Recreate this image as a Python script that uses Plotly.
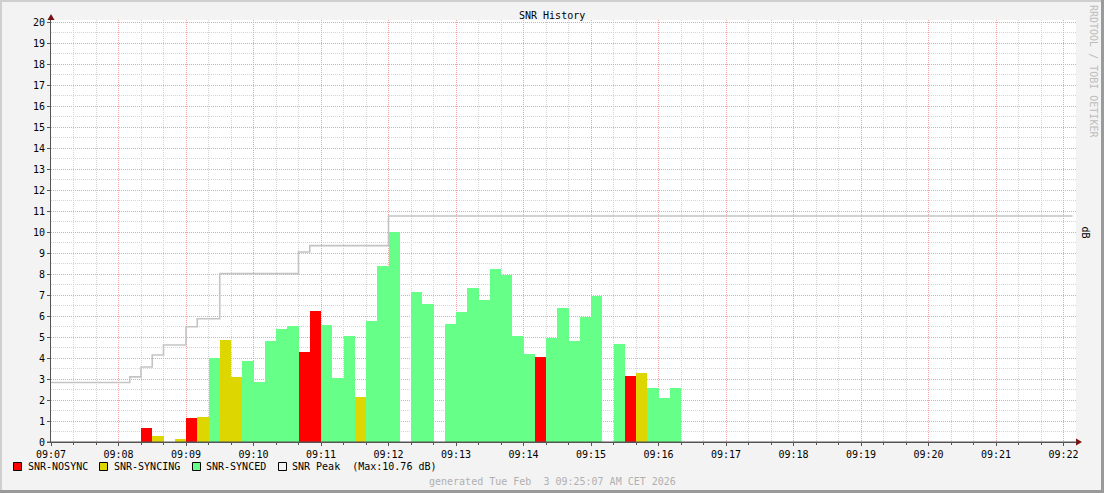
import plotly.graph_objects as go

# ---------------- data ----------------
DAY = "2026-02-03 "
bin_times = [
    "09:08:20", "09:08:30", "09:08:40", "09:08:50", "09:09:00", "09:09:10", "09:09:20", "09:09:30",
    "09:09:40", "09:09:50", "09:10:00", "09:10:10", "09:10:20", "09:10:30", "09:10:40", "09:10:50",
    "09:11:00", "09:11:10", "09:11:20", "09:11:30", "09:11:40", "09:11:50", "09:12:00", "09:12:10",
    "09:12:20", "09:12:30", "09:12:40", "09:12:50", "09:13:00", "09:13:10", "09:13:20", "09:13:30",
    "09:13:40", "09:13:50", "09:14:00", "09:14:10", "09:14:20", "09:14:30", "09:14:40", "09:14:50",
    "09:15:00", "09:15:10", "09:15:20", "09:15:30", "09:15:40", "09:15:50", "09:16:00", "09:16:10",
]
N = None
snr_nosync = [
    0.68, N, N, N, 1.16, N, N, N,
    N, N, N, N, N, N, 4.30, 6.25,
    N, N, N, N, N, N, N, N,
    N, N, N, N, N, N, N, N,
    N, N, N, 4.06, N, N, N, N,
    N, N, N, 3.16, N, N, N, N,
]
snr_syncing = [
    N, 0.30, N, 0.16, N, 1.21, N, 4.87,
    3.11, N, N, N, N, N, N, N,
    N, N, N, 2.16, N, N, N, N,
    N, N, N, N, N, N, N, N,
    N, N, N, N, N, N, N, N,
    N, N, N, N, 3.30, N, N, N,
]
snr_synced = [
    N, N, N, N, N, N, 4.02, N,
    N, 3.87, 2.87, 4.83, 5.40, 5.54, N, N,
    5.59, 3.06, 5.06, N, 5.78, 8.40, 10.02, N,
    7.16, 6.59, N, 5.63, 6.21, 7.35, 6.75, 8.25,
    7.97, 5.06, 4.21, N, 4.97, 6.40, 4.83, 5.97,
    6.97, N, 4.68, N, N, 2.59, 2.11, 2.59,
]
peak_times = ["09:07:00", "09:08:10", "09:08:20", "09:08:30", "09:08:40", "09:09:00",
              "09:09:10", "09:09:30", "09:10:40", "09:10:50", "09:12:00", "09:22:08"]
peak_values = [2.83, 3.10, 3.57, 4.14, 4.62, 5.49, 5.87, 8.02, 9.05, 9.35, 10.76, 10.76]
tick_times = ["09:%02d" % m for m in range(7, 23)]
y_ticks = list(range(0, 21))

# ---------------- styling ----------------
FONT = "DejaVu Sans Mono"
W, H = 1104, 493
PL, PR, PT, PB = 51, 1076, 20, 442  # plot area in pixels

def px(x):
    return (x - PL) / (PR - PL)

def py(y):
    return (PB - y) / (PB - PT)

fig = go.Figure()
xs = [DAY + t for t in bin_times]
for name, vals, col in [("SNR-NOSYNC", snr_nosync, "#ff0000"),
                        ("SNR-SYNCING", snr_syncing, "#ddd600"),
                        ("SNR-SYNCED", snr_synced, "#66ff88")]:
    fig.add_trace(go.Bar(x=xs, y=vals, width=[10000] * len(xs), offset=0,
                         marker=dict(color=col, line=dict(width=0)), name=name,
                         showlegend=False))

fig.add_trace(go.Scatter(x=[DAY + t for t in peak_times], y=peak_values, mode="lines",
                         line=dict(color="#c4c4c4", width=1.6, shape="hv"),
                         showlegend=False))

fig.update_layout(
    width=W, height=H,
    margin=dict(l=PL, r=W - PR, t=PT, b=H - PB, pad=0),
    paper_bgcolor="#f3f3f3", plot_bgcolor="#ffffff",
    barmode="overlay", bargap=0,
    font=dict(family=FONT, size=10, color="#000000"),
    showlegend=False,
)
fig.update_xaxes(
    type="date",
    range=[DAY + "09:07:00", DAY + "09:22:11.1"],
    tickvals=[DAY + t for t in tick_times], ticktext=tick_times,
    showgrid=True, gridcolor="#f2a0a0", griddash="1px,1px", gridwidth=1,
    minor=dict(dtick=20000, tick0=DAY + "09:07:00", showgrid=True,
               gridcolor="#d4d4d4", griddash="1px,1px", ticks="outside", ticklen=2,
               tickcolor="#555555"),
    showline=True, linecolor="#555555", linewidth=1,
    ticks="outside", ticklen=3, tickcolor="#555555",
    tickfont=dict(family=FONT, size=10, color="#000000"),
    zeroline=False,
)
fig.update_yaxes(
    range=[0, 20 + 2 / 21],
    tickvals=y_ticks, ticktext=[str(v) for v in y_ticks],
    showgrid=True, gridcolor="#f2a0a0", griddash="1px,1px", gridwidth=1,
    minor=dict(dtick=0.5, tick0=0, showgrid=True, gridcolor="#d4d4d4",
               griddash="1px,1px"),
    showline=True, linecolor="#555555", linewidth=1,
    ticks="outside", ticklen=3, tickcolor="#555555",
    tickfont=dict(family=FONT, size=10, color="#000000"),
    zeroline=False,
)

shapes = []
# 3D frame borders
shapes.append(dict(type="rect", xref="paper", yref="paper", x0=px(0), x1=px(W), y0=py(0), y1=py(2),
                   fillcolor="#cfcfcf", line=dict(width=0), layer="below"))
shapes.append(dict(type="rect", xref="paper", yref="paper", x0=px(0), x1=px(2), y0=py(0), y1=py(H),
                   fillcolor="#cfcfcf", line=dict(width=0), layer="below"))
shapes.append(dict(type="rect", xref="paper", yref="paper", x0=px(W - 3), x1=px(W), y0=py(0), y1=py(H),
                   fillcolor="#9a9a9a", line=dict(width=0), layer="below"))
shapes.append(dict(type="rect", xref="paper", yref="paper", x0=px(0), x1=px(W), y0=py(H - 3), y1=py(H),
                   fillcolor="#9a9a9a", line=dict(width=0), layer="below"))
# axis arrows
shapes.append(dict(type="path", xref="paper", yref="paper",
                   path="M %f,%f L %f,%f L %f,%f Z" % (px(47.5), py(20), px(54.5), py(20), px(51), py(14)),
                   fillcolor="#7a1010", line=dict(width=0)))
shapes.append(dict(type="path", xref="paper", yref="paper",
                   path="M %f,%f L %f,%f L %f,%f Z" % (px(1076), py(438.5), px(1076), py(445.5), px(1082), py(442)),
                   fillcolor="#7a1010", line=dict(width=0)))
shapes.append(dict(type="line", xref="paper", yref="paper", x0=px(47), x1=px(1077), y0=py(442), y1=py(442),
                   line=dict(color="#555555", width=1)))

# legend boxes
legend_items = [(13, "#ff0000"), (99, "#ddd600"), (192, "#66ff88"), (278, "#f3f3f3")]
for x0, col in legend_items:
    shapes.append(dict(type="rect", xref="paper", yref="paper", x0=px(x0 + 0.5), x1=px(x0 + 8.5),
                       y0=py(462.5), y1=py(470.5), fillcolor=col, line=dict(color="#000000", width=1)))
fig.update_layout(shapes=shapes)

ann = []
def text(x, y, s, anchor="left", color="#000000", angle=0, size=10):
    ann.append(dict(x=px(x), y=py(y), xref="paper", yref="paper", text=s, showarrow=False,
                    xanchor=anchor, yanchor="middle", textangle=angle,
                    font=dict(family=FONT, size=size, color=color)))

text(551.5, 15, "SNR History", anchor="center")
text(25.5, 466.5, "SNR-NOSYNC")
text(111.5, 466.5, "SNR-SYNCING")
text(203.5, 466.5, "SNR-SYNCED")
text(289.5, 466.5, "SNR Peak  (Max:10.76 dB)")
text(552, 481, "generated Tue Feb  3 09:25:07 AM CET 2026", anchor="center", color="#b0b0b0")
text(1093, 71, "RRDTOOL / TOBI OETIKER", anchor="center", color="#bdbdbd", angle=90)
text(1085.5, 232, "dB", anchor="center", angle=90)
fig.update_layout(annotations=ann)

fig.write_html("out.html", config={"displayModeBar": False},
               post_script="document.body.style.margin='0';document.body.style.padding='0';"
                           "document.body.style.overflow='hidden';")
